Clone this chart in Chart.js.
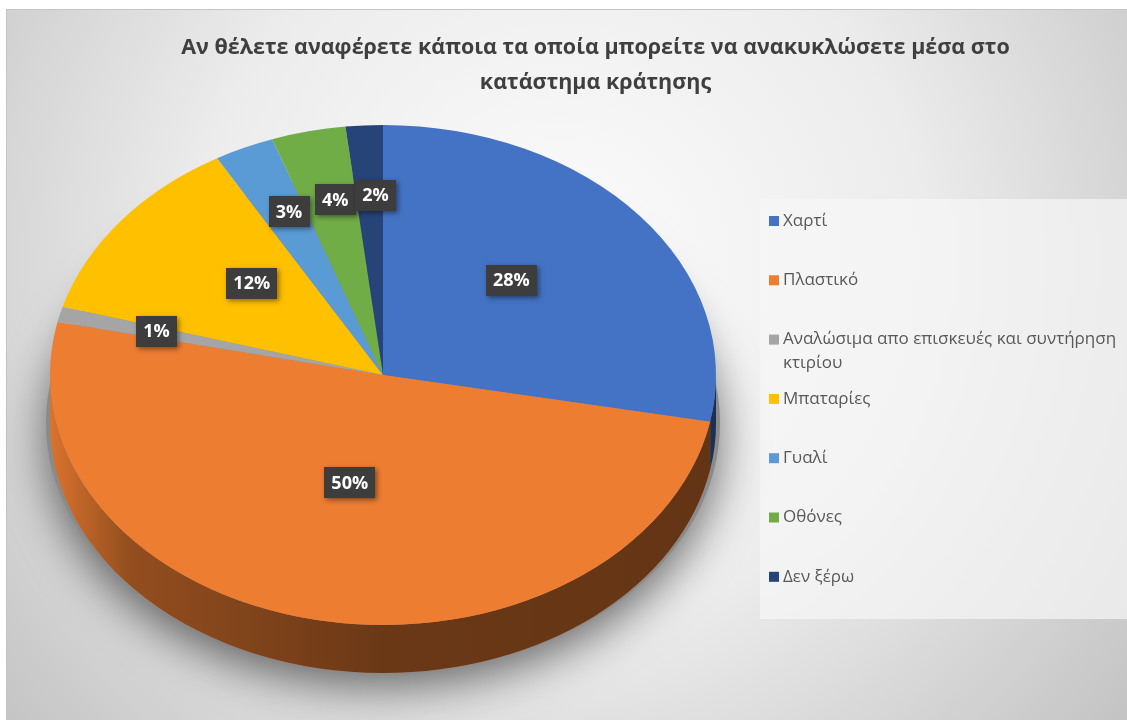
<!DOCTYPE html>
<html lang="el">
<head>
<meta charset="UTF-8" />
<title>Ανακύκλωση στο κατάστημα</title>
<script src="https://cdn.jsdelivr.net/npm/chart.js"></script>
<style>
  body { margin: 0; background: #fff; }
  canvas { display: block; }
</style>
</head>
<body>
<canvas id="pieChart" width="1127" height="720"></canvas>

<script>
  // data (shares in %)
  const categories = ['Χαρτί', 'Πλαστικό', ['Αναλώσιμα απο επισκευές και συντήρηση', 'κτιρίου'], 'Μπαταρίες', 'Γυαλί', 'Οθόνες', 'Δεν ξέρω'];
  const shares = [28, 50.4, 1, 12.3, 2.9, 3.6, 1.8];
  const colors = ['#4472C4', '#ED7D31', '#A5A5A5', '#FFC000', '#5B9BD5', '#70AD47', '#264478'];
  const titleLines = ['Αν θέλετε αναφέρετε κάποια τα οποία μπορείτε να ανακυκλώσετε μέσα στο', 'κατάστημα κράτησης'];

  // where the tilted pie sits on the page
  const PIE = { cx: 383, cy: 375, rx: 333, ry: 250, depth: 48 };
  const FONT = "'Open Sans', 'Noto Sans', sans-serif";

  const pie3d = {
    id: 'pie3d',
    beforeDraw(chart) {
      const { ctx, width, height } = chart;
      ctx.save();
      ctx.fillStyle = '#fff';
      ctx.fillRect(0, 0, width, height);
      const g = ctx.createRadialGradient(560, 260, 40, 560, 260, 760);
      g.addColorStop(0, '#fafafa');
      g.addColorStop(0.45, '#ececec');
      g.addColorStop(1, '#c0c0c0');
      ctx.fillStyle = g;
      ctx.fillRect(6, 9, width - 6, height - 9);
      ctx.strokeStyle = '#c4c4c4';
      ctx.beginPath();
      ctx.moveTo(6.5, height); ctx.lineTo(6.5, 9.5); ctx.lineTo(width, 9.5);
      ctx.stroke();
      // legend panel
      ctx.fillStyle = 'rgba(246,246,246,0.7)';
      ctx.fillRect(760, 199, width - 760, 420);
      ctx.restore();
    },
    beforeDatasetsDraw(chart) {
      const ctx = chart.ctx;
      const arcs = chart.getDatasetMeta(0).data;
      const { cx, cy, rx, ry, depth } = PIE;

      // soft drop shadow under the pie
      ctx.save();
      ctx.shadowColor = 'rgba(0,0,0,0.55)';
      ctx.shadowBlur = 45;
      ctx.shadowOffsetY = 14;
      ctx.fillStyle = '#8a8a8a';
      ctx.beginPath();
      ctx.ellipse(cx, cy + depth, rx + 4, ry, 0, 0, Math.PI * 2);
      ctx.fill();
      ctx.restore();

      // front walls
      const shade = ctx.createLinearGradient(cx - rx, 0, cx + rx, 0);
      shade.addColorStop(0, 'rgba(0,0,0,0.08)');
      shade.addColorStop(0.12, 'rgba(0,0,0,0.38)');
      shade.addColorStop(0.5, 'rgba(0,0,0,0.55)');
      shade.addColorStop(1, 'rgba(0,0,0,0.58)');
      arcs.forEach((arc, i) => {
        const s = Math.max(arc.startAngle, 0);
        const e = Math.min(arc.endAngle, Math.PI);
        if (s >= e) return;
        ctx.beginPath();
        ctx.ellipse(cx, cy, rx, ry, 0, s, e);
        ctx.ellipse(cx, cy + depth, rx, ry, 0, e, s, true);
        ctx.closePath();
        ctx.fillStyle = colors[i];
        ctx.fill();
        ctx.fillStyle = shade;
        ctx.fill();
      });

      // squash the library's round pie into the tilted ellipse
      const a0 = arcs[0];
      ctx.save();
      ctx.translate(cx, cy);
      ctx.scale(rx / a0.outerRadius, ry / a0.outerRadius);
      ctx.translate(-a0.x, -a0.y);
    },
    afterDatasetsDraw(chart) {
      const ctx = chart.ctx;
      ctx.restore();
      const arcs = chart.getDatasetMeta(0).data;
      const total = shares.reduce((a, b) => a + b, 0);
      const { cx, cy, rx, ry } = PIE;

      // data labels
      ctx.save();
      ctx.font = 'bold 18px ' + FONT;
      ctx.textAlign = 'center';
      ctx.textBaseline = 'middle';
      arcs.forEach((arc, i) => {
        const mid = (arc.startAngle + arc.endAngle) / 2;
        const big = shares[i] >= 10;
        const f = big ? 0.5 : 0.72;
        const x = cx + rx * f * Math.cos(mid) + (big ? 0 : 6);
        const y = cy + ry * f * Math.sin(mid) - (big ? 15 : 0);
        const txt = Math.round(shares[i] / total * 100) + '%';
        const w = ctx.measureText(txt).width + 14;
        const h = 31;
        ctx.save();
        ctx.shadowColor = 'rgba(0,0,0,0.45)';
        ctx.shadowBlur = 5;
        ctx.shadowOffsetX = 2;
        ctx.shadowOffsetY = 2;
        ctx.fillStyle = '#3d3d3d';
        ctx.fillRect(Math.round(x - w / 2), Math.round(y - h / 2), Math.round(w), h);
        ctx.restore();
        ctx.fillStyle = '#fff';
        ctx.fillText(txt, x, y + 1);
      });
      ctx.restore();

      // legend
      ctx.save();
      ctx.font = '17px ' + FONT;
      ctx.textBaseline = 'middle';
      ctx.textAlign = 'left';
      categories.forEach((label, i) => {
        const y = 221 + i * 59.3;
        ctx.fillStyle = colors[i];
        ctx.fillRect(769, y - 5, 10, 10);
        ctx.fillStyle = '#595959';
        const lines = Array.isArray(label) ? label : [label];
        lines.forEach((ln, j) => ctx.fillText(ln, 783, y + j * 24));
      });
      ctx.restore();
    }
  };

  new Chart(document.getElementById('pieChart'), {
    type: 'pie',
    data: {
      labels: categories,
      datasets: [{
        data: shares,
        backgroundColor: colors,
        borderWidth: 0,
        clip: false
      }]
    },
    options: {
      responsive: false,
      animation: false,
      events: [],
      layout: { padding: { left: 64 } },
      plugins: {
        legend: { display: false },
        tooltip: { enabled: false },
        title: {
          display: true,
          text: titleLines,
          color: '#3f3f3f',
          font: { family: FONT, size: 21.5, weight: 'bold', lineHeight: 1.6 },
          padding: { top: 31, bottom: 10 }
        }
      }
    },
    plugins: [pie3d]
  });
</script>
</body>
</html>
